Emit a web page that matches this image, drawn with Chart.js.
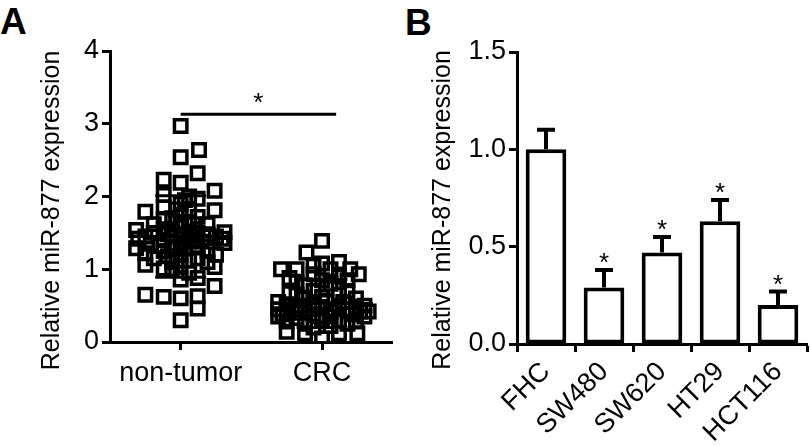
<!DOCTYPE html>
<html>
<head>
<meta charset="utf-8">
<script src="https://cdn.jsdelivr.net/npm/chart.js@4.4.0/dist/chart.umd.min.js"></script>
<style>
  body { margin: 0; background: #fff; width: 810px; height: 446px; overflow: hidden; position: relative; }
  .panel { position: absolute; top: 0; }
  .letter { position: absolute; font: bold 37px "Liberation Sans", Arial, sans-serif; line-height: 1; color: #000; }
</style>
</head>
<body>
<div class="letter" style="left:0px; top:3px;">A</div>
<div class="letter" style="left:405px; top:4px;">B</div>
<div class="panel" style="left:0px;"><canvas id="chartA" width="405" height="446"></canvas></div>
<div class="panel" style="left:410px;"><canvas id="chartB" width="400" height="446"></canvas></div>
<script>
// Panel A - dot plot
const groupsA = ['non-tumor', 'CRC'];
const nonTumorPoints = [
    [1.00, 2.97], [1.13, 2.64], [1.00, 2.54], [1.12, 2.32], [0.88, 2.23], [1.00, 2.19],
    [1.24, 2.08], [0.88, 2.02], [1.12, 1.97], [0.75, 1.79], [1.24, 1.81], [0.88, 1.69],
    [1.12, 1.72], [0.685, 1.54], [1.31, 1.51], [1.31, 1.36], [0.685, 1.29], [0.75, 1.06],
    [1.24, 1.03], [0.88, 1.01], [1.00, 0.86], [1.12, 0.88], [1.24, 0.77], [0.75, 0.65],
    [0.88, 0.62], [1.00, 0.60], [1.12, 0.63], [1.12, 0.46], [1.00, 0.30],
    [0.70, 1.42], [0.75, 1.45], [0.81, 1.50], [0.94, 1.55], [1.00, 1.60], [1.06, 1.65],
    [1.19, 1.48], [1.25, 1.45], [1.29, 1.42], [0.79, 1.35], [0.88, 1.40], [0.94, 1.30],
    [1.00, 1.42], [1.06, 1.38], [1.12, 1.30], [1.19, 1.25], [1.25, 1.20], [0.75, 1.22],
    [0.81, 1.15], [0.94, 1.10], [1.00, 1.20], [1.06, 1.12], [1.12, 1.50], [0.88, 1.85],
    [1.00, 1.90], [1.06, 1.80], [1.00, 1.75], [0.94, 1.70], [1.06, 2.00], [1.19, 1.62],
    [0.81, 1.62], [0.94, 1.00], [1.06, 0.95], [1.00, 1.05], [1.19, 1.10], [0.88, 1.25],
    [1.12, 1.15], [0.94, 1.45], [1.06, 1.52], [0.88, 1.55], [1.00, 1.33],
    [0.97, 1.65], [1.03, 1.48], [0.91, 1.18], [1.09, 1.42], [0.97, 1.82], [1.03, 1.28],
    [1.09, 1.62], [0.91, 1.48], [1.15, 1.38], [0.85, 1.32], [1.03, 1.95], [0.97, 1.12]
];
const crcPoints = [
    [2.00, 1.39], [1.89, 1.23], [1.71, 1.00], [1.82, 1.00], [2.00, 1.08], [2.12, 1.10],
    [2.20, 1.00], [2.26, 0.93], [1.94, 0.93], [1.77, 0.88], [2.12, 0.90], [1.88, 0.78],
    [1.77, 0.67], [2.03, 0.74], [2.24, 0.60], [1.69, 0.55],
    [1.75, 0.14], [1.88, 0.12], [2.00, 0.05], [2.12, 0.12], [2.25, 0.12],
    [1.69, 0.45], [1.69, 0.35], [1.75, 0.40], [1.75, 0.28], [1.82, 0.50], [1.82, 0.33],
    [1.88, 0.45], [1.88, 0.25], [1.94, 0.55], [1.94, 0.38], [1.94, 0.20], [2.00, 0.48],
    [2.00, 0.30], [2.00, 0.62], [2.06, 0.42], [2.06, 0.22], [2.06, 0.80], [2.12, 0.50],
    [2.12, 0.30], [2.18, 0.45], [2.18, 0.25], [2.18, 0.70], [2.24, 0.40], [2.24, 0.28],
    [2.30, 0.50], [2.30, 0.35], [2.33, 0.42], [1.94, 0.70], [1.82, 0.65], [2.12, 0.65],
    [1.88, 0.60], [2.00, 0.85], [2.06, 1.00], [1.94, 1.05], [2.18, 0.85], [1.82, 0.82],
    [1.75, 0.52], [2.06, 0.35], [2.24, 0.48], [1.94, 0.45],
    [1.72, 0.38], [1.85, 0.40], [1.97, 0.35], [2.09, 0.45], [2.21, 0.38], [2.27, 0.42],
    [1.91, 0.50], [2.03, 0.55], [2.15, 0.55], [1.79, 0.45]
];
const meanA = [1.45, 0.53];
const sdA = [0.56, 0.33];
const sigA = { from: 1, to: 2.1, y: 3.13, label: '*' };

// Panel B - bar chart
const cellLines = ['FHC', 'SW480', 'SW620', 'HT29', 'HCT116'];
const expressionB = [1.0, 0.29, 0.47, 0.63, 0.20];
const errorB = [0.10, 0.09, 0.08, 0.11, 0.07];
const starsB = ['', '*', '*', '*', '*'];

const yTitle = 'Relative miR-877 expression';
const FONT = '"Liberation Sans", Arial, sans-serif';

const pointsToData = arr => arr.map(p => ({ x: p[0], y: p[1] }));
const hline = (x0, x1, y) => [{ x: x0, y: y }, { x: x1, y: y }];

const lineDs = (data, w) => ({
    type: 'line', data: data, borderColor: '#000', borderWidth: w,
    pointRadius: 0, showLine: true, fill: false
});

const axisCommon = {
    border: { display: true, color: '#000', width: 3 },
    grid: { drawOnChartArea: false, drawTicks: true, tickLength: 8, tickColor: '#000', tickWidth: 3 },
};

// y axis title, drawn a bit below the middle of the plot like the original
const yTitlePlugin = {
    id: 'yTitlePlugin',
    afterDraw(chart, args, opts) {
        const ctx = chart.ctx;
        const area = chart.chartArea;
        ctx.save();
        ctx.translate(opts.x, (area.top + area.bottom) / 2 + opts.dy);
        ctx.rotate(-Math.PI / 2);
        ctx.fillStyle = '#000';
        ctx.font = '25px ' + FONT;
        ctx.textAlign = 'center';
        ctx.textBaseline = 'middle';
        ctx.fillText(opts.text, 0, 0);
        ctx.restore();
    }
};

// draw text labels (asterisks) at data positions
const starPlugin = {
    id: 'starPlugin',
    afterDatasetsDraw(chart, args, opts) {
        const ctx = chart.ctx;
        ctx.save();
        ctx.fillStyle = '#000';
        ctx.font = '26px ' + FONT;
        ctx.textAlign = 'center';
        ctx.textBaseline = 'middle';
        (opts.items || []).forEach(it => {
            const x = chart.scales.x.getPixelForValue(it.x);
            const y = chart.scales.y.getPixelForValue(it.y);
            ctx.fillText(it.text, x, y + it.dy);
        });
        ctx.restore();
    }
};

const errorBarPlugin = {
    id: 'errorBarPlugin',
    afterDatasetsDraw(chart) {
        const ctx = chart.ctx;
        const meta = chart.getDatasetMeta(0);
        const ys = chart.scales.y;
        ctx.save();
        ctx.strokeStyle = '#000';
        ctx.lineWidth = 4;
        meta.data.forEach((bar, i) => {
            const top = ys.getPixelForValue(expressionB[i] + errorB[i]);
            ctx.beginPath();
            ctx.moveTo(bar.x, bar.y);
            ctx.lineTo(bar.x, top);
            ctx.moveTo(bar.x - 9, top);
            ctx.lineTo(bar.x + 9, top);
            ctx.stroke();
            if (starsB[i]) {
                ctx.fillStyle = '#000';
                ctx.font = '26px ' + FONT;
                ctx.textAlign = 'center';
                ctx.textBaseline = 'middle';
                ctx.fillText(starsB[i], bar.x, top - 6);
            }
        });
        ctx.restore();
    }
};

new Chart(document.getElementById('chartA'), {
    type: 'scatter',
    data: {
        datasets: [
            {
                data: pointsToData(nonTumorPoints), pointStyle: 'rect', pointRadius: 8.8,
                borderColor: '#000', borderWidth: 3.5, backgroundColor: 'rgba(0,0,0,0)'
            },
            {
                data: pointsToData(crcPoints), pointStyle: 'rect', pointRadius: 8.8,
                borderColor: '#000', borderWidth: 3.5, backgroundColor: 'rgba(0,0,0,0)'
            },
            lineDs(hline(0.64, 1.36, meanA[0]), 3),
            lineDs(hline(0.82, 1.18, meanA[0] + sdA[0]), 3),
            lineDs(hline(0.82, 1.18, meanA[0] - sdA[0]), 3),
            lineDs(hline(1.64, 2.36, meanA[1]), 3),
            lineDs(hline(1.82, 2.18, meanA[1] + sdA[1]), 3),
            lineDs(hline(1.82, 2.18, meanA[1] - sdA[1]), 3),
            lineDs(hline(sigA.from, sigA.to, sigA.y), 3)
        ]
    },
    options: {
        responsive: false,
        animation: false,
        layout: { padding: { top: 51, right: 3, left: 0, bottom: 0 } },
        plugins: {
            legend: { display: false },
            tooltip: { enabled: false },
            starPlugin: { items: [{ x: (sigA.from + sigA.to) / 2, y: sigA.y, dy: -10, text: sigA.label }] },
            yTitlePlugin: { text: yTitle, x: 52, dy: 14 }
        },
        scales: {
            x: {
                ...axisCommon,
                type: 'linear', min: 0.5, max: 2.5,
                afterBuildTicks: s => { s.ticks = [{ value: 1 }, { value: 2 }]; },
                afterFit: s => { s.height = 104; },
                ticks: {
                    color: '#000', font: { family: FONT, size: 27 }, padding: 7,
                    callback: v => groupsA[v - 1]
                }
            },
            y: {
                ...axisCommon,
                min: 0, max: 4,
                afterFit: s => { s.width = 110; },
                ticks: { stepSize: 1, color: '#000', font: { family: FONT, size: 27 }, padding: 3 }
            }
        }
    },
    plugins: [starPlugin, yTitlePlugin]
});

new Chart(document.getElementById('chartB'), {
    type: 'bar',
    data: {
        labels: cellLines,
        datasets: [{
            data: expressionB,
            backgroundColor: '#fff', borderColor: '#000', borderWidth: 4,
            borderSkipped: false, barPercentage: 0.7, categoryPercentage: 1
        }]
    },
    options: {
        responsive: false,
        animation: false,
        layout: { padding: { top: 52, right: 3, left: 0, bottom: 0 } },
        plugins: {
            legend: { display: false },
            tooltip: { enabled: false },
            yTitlePlugin: { text: yTitle, x: 33, dy: 12 }
        },
        scales: {
            x: {
                ...axisCommon,
                afterFit: s => { s.height = 102; },
                ticks: {
                    color: '#000', font: { family: FONT, size: 27 }, padding: 4,
                    maxRotation: 45, minRotation: 45
                }
            },
            y: {
                ...axisCommon,
                min: 0, max: 1.5,
                afterFit: s => { s.width = 107; },
                ticks: {
                    stepSize: 0.5, color: '#000', font: { family: FONT, size: 27 }, padding: 3,
                    callback: v => v.toFixed(1)
                }
            }
        }
    },
    plugins: [errorBarPlugin, yTitlePlugin]
});
</script>
</body>
</html>
